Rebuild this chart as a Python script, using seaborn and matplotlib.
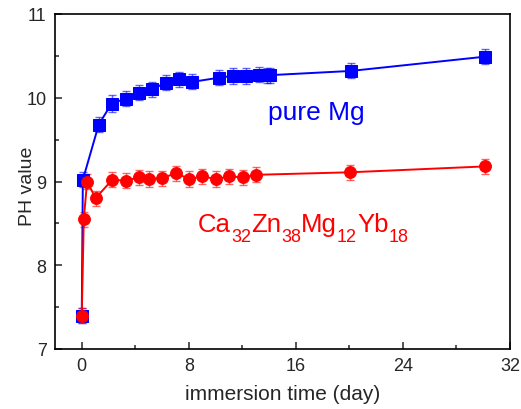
import matplotlib
matplotlib.use("Agg")
import matplotlib.pyplot as plt
import matplotlib.transforms as mtransforms
import seaborn as sns
from matplotlib.ticker import MultipleLocator

# ---- data ----
mg_days = [0, 0.08, 1.27, 2.23, 3.28, 4.28, 5.27, 6.28, 7.28, 8.27, 10.28, 11.27, 12.28, 13.28, 13.85, 14.1, 20.1, 30.1]
mg_ph   = [7.40, 9.02, 9.68, 9.93, 9.99, 10.06, 10.10, 10.18, 10.22, 10.19, 10.24, 10.26, 10.26, 10.275, 10.27, 10.27, 10.32, 10.49]
mg_err  = [0.09, 0.09, 0.09, 0.10, 0.09, 0.09, 0.09, 0.09, 0.09, 0.09, 0.09, 0.09, 0.09, 0.09, 0.09, 0.09, 0.09, 0.09]

alloy_days = [0, 0.15, 0.4, 1.03, 2.27, 3.28, 4.28, 5.03, 6.02, 7.03, 8.03, 9.02, 10.03, 11.03, 12.02, 13.03, 20.05, 30.1]
alloy_ph   = [7.40, 8.55, 9.00, 8.80, 9.02, 9.01, 9.05, 9.03, 9.04, 9.10, 9.03, 9.06, 9.03, 9.06, 9.05, 9.08, 9.11, 9.18]
alloy_err  = [0.09, 0.09, 0.09, 0.09, 0.09, 0.09, 0.09, 0.09, 0.09, 0.09, 0.09, 0.09, 0.09, 0.09, 0.09, 0.09, 0.09, 0.09]

x_ticks = [0, 8, 16, 24, 32]
y_ticks = [7, 8, 9, 10, 11]

alloy_label_parts = [('Ca', False), ('32', True), ('Zn', False), ('38', True),
                     ('Mg', False), ('12', True), ('Yb', False), ('18', True)]

sns.set_style("ticks")
plt.rcParams['font.family'] = ['Liberation Sans', 'DejaVu Sans']

fig = plt.figure(figsize=(5.21, 4.10), dpi=100)
ax = fig.add_axes([55/521, 1-350/410, (510-55)/521, (350-15)/410])

BLUE = '#0000ff'
RED = '#ff0000'

for d, v, e, c in [(mg_days, mg_ph, mg_err, BLUE), (alloy_days, alloy_ph, alloy_err, RED)]:
    ax.errorbar(d, v, yerr=e, fmt='none', ecolor=c, alpha=0.6, elinewidth=1.0,
                capsize=3.2, capthick=1.0, zorder=2)

sns.lineplot(x=mg_days, y=mg_ph, ax=ax, color=BLUE, marker='s', markersize=8,
             markeredgecolor=BLUE, linewidth=1.4, sort=False, zorder=3)
sns.lineplot(x=alloy_days, y=alloy_ph, ax=ax, color=RED, marker='o', markersize=8.5,
             markeredgecolor=RED, linewidth=1.4, sort=False, zorder=4)

ax.set_xlim(-2, 32)
ax.set_ylim(7, 11)
ax.set_xticks(x_ticks)
ax.set_yticks(y_ticks)
ax.xaxis.set_minor_locator(MultipleLocator(4))
ax.yaxis.set_minor_locator(MultipleLocator(0.5))
ax.tick_params(which='both', direction='in', top=False, right=False, labelsize=13, width=1.1, pad=6)
ax.tick_params(which='major', length=5)
ax.tick_params(which='minor', length=3)
for s in ax.spines.values():
    s.set_linewidth(1.2)
    s.set_color('black')

ax.set_xlabel('immersion time (day)', fontsize=15, labelpad=7)
ax.set_ylabel('PH value', fontsize=14)
ax.yaxis.set_label_coords(-0.042, 0.49)

ax.text(13.95, 9.75, 'pure Mg', color=BLUE, fontsize=19)

# compound formula with lowered subscripts
renderer = fig.canvas.get_renderer()
x_off = 0.0
for txt, is_sub in alloy_label_parts:
    tr = mtransforms.offset_copy(ax.transData, fig=fig, x=x_off, y=(-7.5 if is_sub else 0), units='points')
    t = ax.text(8.7, 8.41, txt, color=RED, fontsize=(13 if is_sub else 18.5), transform=tr)
    w = t.get_window_extent(renderer=renderer).width
    x_off += w * 72.0 / fig.dpi

fig.savefig('out.png', dpi=100)
